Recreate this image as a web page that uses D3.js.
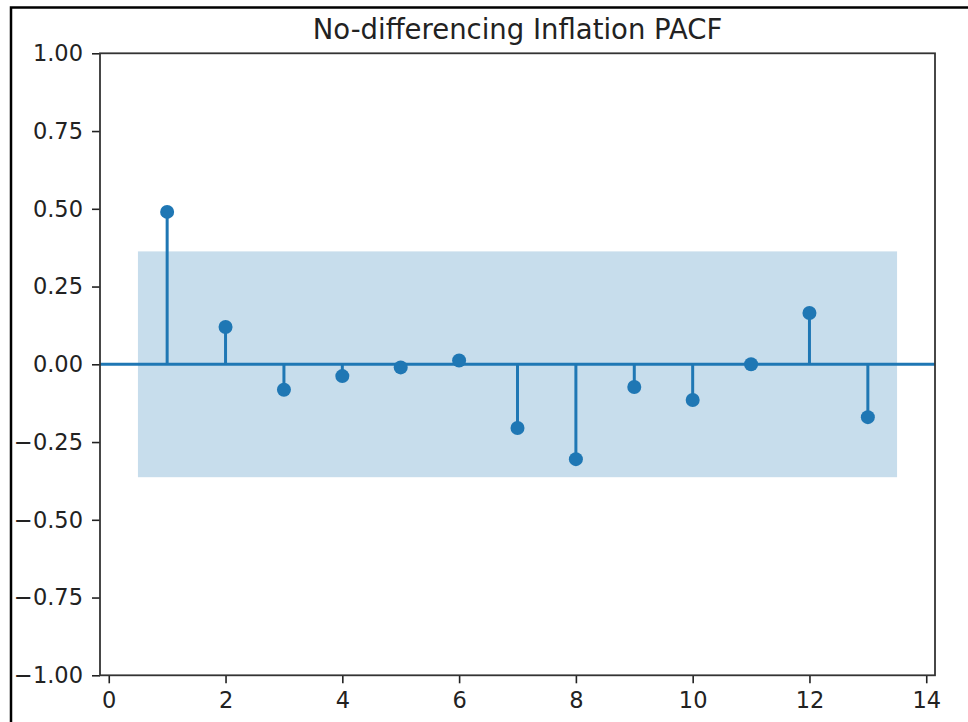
<!DOCTYPE html>
<html>
<head>
<meta charset="utf-8">
<script src="https://cdn.jsdelivr.net/npm/d3@7"></script>
<style>
  html, body { margin: 0; padding: 0; background: #fff; }
  svg { display: block; font-family: "DejaVu Sans", sans-serif; }
</style>
</head>
<body>
<div id="chart"></div>
<script>
// Data
const lags = [1, 2, 3, 4, 5, 6, 7, 8, 9, 10, 11, 12, 13];
const pacfValues = [0.49, 0.12, -0.082, -0.038, -0.01, 0.012, -0.205, -0.305, -0.073, -0.115, 0.0, 0.165, -0.17];
const confBand = [0.363, -0.363];
const bandLags = [0.5, 13.5];
const xTicks = [0, 2, 4, 6, 8, 10, 12, 14];
const yTicks = [-1, -0.75, -0.5, -0.25, 0, 0.25, 0.5, 0.75, 1];
const title = "No-differencing Inflation PACF";

const width = 968, height = 722;
const margin = { top: 53.3, right: 33, bottom: 46.7, left: 100 };
const plotW = width - margin.left - margin.right;
const plotH = height - margin.top - margin.bottom;
const blue = "#1f77b4";

const svg = d3.select("#chart")
    .append("svg")
    .attr("width", width)
    .attr("height", height);

// outer frame around the screenshot
svg.append("rect")
    .attr("x", 11)
    .attr("y", 7.5)
    .attr("width", width + 20)
    .attr("height", height + 20)
    .attr("fill", "none")
    .attr("stroke", "#000")
    .attr("stroke-width", 2.5);

const g = svg.append("g")
    .attr("transform", `translate(${margin.left},${margin.top})`);

const x = d3.scaleLinear().domain([-0.15, 14.15]).range([0, plotW]);
const y = d3.scaleLinear().domain([-1, 1]).range([plotH, 0]);

// confidence band
g.append("rect")
    .attr("x", x(bandLags[0]))
    .attr("width", x(bandLags[1]) - x(bandLags[0]))
    .attr("y", y(confBand[0]))
    .attr("height", y(confBand[1]) - y(confBand[0]))
    .attr("fill", blue)
    .attr("fill-opacity", 0.25);

// zero line
g.append("line")
    .attr("x1", 0)
    .attr("x2", plotW)
    .attr("y1", y(0))
    .attr("y2", y(0))
    .attr("stroke", blue)
    .attr("stroke-width", 3);

// stems
g.selectAll(".stem")
    .data(lags)
    .enter()
    .append("line")
    .attr("class", "stem")
    .attr("x1", d => x(d))
    .attr("x2", d => x(d))
    .attr("y1", y(0))
    .attr("y2", (d, i) => y(pacfValues[i]))
    .attr("stroke", blue)
    .attr("stroke-width", 3);

// markers
g.selectAll(".dot")
    .data(lags)
    .enter()
    .append("circle")
    .attr("class", "dot")
    .attr("cx", d => x(d))
    .attr("cy", (d, i) => y(pacfValues[i]))
    .attr("r", 7)
    .attr("fill", blue);

// axes
const xAxis = g.append("g")
    .attr("transform", `translate(0,${plotH})`)
    .call(d3.axisBottom(x).tickValues(xTicks).tickFormat(d3.format("d")).tickSize(8).tickPadding(9));

const yAxis = g.append("g")
    .call(d3.axisLeft(y).tickValues(yTicks)
        .tickFormat(d => d3.format(".2f")(d).replace("-", "\u2212"))
        .tickSize(8).tickPadding(9));

[xAxis, yAxis].forEach(ax => {
    ax.select(".domain").remove();
    ax.selectAll("line").attr("stroke", "#222").attr("stroke-width", 1.6);
    ax.selectAll("text")
        .attr("fill", "#222")
        .style("font-size", "22.5px")
        .style("font-family", "DejaVu Sans, sans-serif");
});

// spines
g.append("rect")
    .attr("width", plotW)
    .attr("height", plotH)
    .attr("fill", "none")
    .attr("stroke", "#333")
    .attr("stroke-width", 1.8);

// title
svg.append("text")
    .attr("x", margin.left + plotW / 2)
    .attr("y", 39)
    .attr("text-anchor", "middle")
    .attr("fill", "#222")
    .style("font-size", "27.5px")
    .text(title);
</script>
</body>
</html>
